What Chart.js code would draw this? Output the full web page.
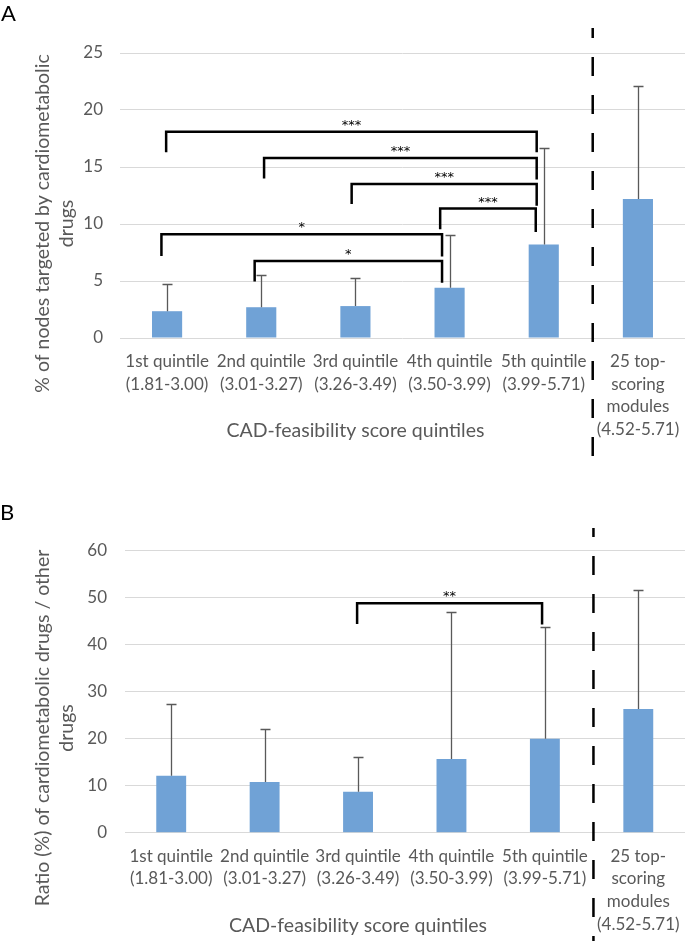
<!DOCTYPE html>
<html>
<head>
<meta charset="utf-8">
<script src="https://cdn.jsdelivr.net/npm/chart.js@4/dist/chart.umd.min.js"></script>
<style>
  body { margin: 0; background: #fff; }
  canvas { position: absolute; left: 0; }
</style>
</head>
<body>
<canvas id="chartA" width="685" height="460" style="top:0"></canvas>
<canvas id="chartB" width="685" height="481" style="top:460px"></canvas>
<script>
// categories (x tick labels)
var quintiles = [
    ['1st quintile', '(1.81-3.00)'],
    ['2nd quintile', '(3.01-3.27)'],
    ['3rd quintile', '(3.26-3.49)'],
    ['4th quintile', '(3.50-3.99)'],
    ['5th quintile', '(3.99-5.71)'],
    ['25 top-', 'scoring', 'modules', '(4.52-5.71)']
];

// panel A: % of nodes targeted by cardiometabolic drugs
var nodesMean = [2.35, 2.7, 2.8, 4.4, 8.2, 12.2];
var nodesErr = [2.4, 2.8, 2.5, 4.6, 8.5, 9.9];
var ticksA = [0, 5, 10, 15, 20, 25];
// [from, to, top, left leg end, right leg end, label]
var bracketsA = [
    [-0.01, 3.925, 18.1, 16.3, 16.3, '***'],
    [1.03, 3.925, 15.8, 14.0, 13.9, '***'],
    [1.96, 3.925, 13.5, 11.75, 11.6, '***'],
    [2.9, 3.915, 11.35, 9.55, 9.3, '***'],
    [-0.06, 2.92, 9.1, 7.2, 7.15, '*'],
    [0.93, 2.92, 6.75, 4.95, 4.85, '*']
];

// panel B: ratio (%) of cardiometabolic drugs / other drugs
var ratioMean = [12.1, 10.8, 8.7, 15.7, 20.0, 26.3];
var ratioErr = [15.2, 11.2, 7.5, 31.2, 23.7, 25.3];
var ticksB = [0, 10, 20, 30, 40, 50, 60];
var bracketsB = [
    [1.99, 3.97, 48.8, 44.4, 44.3, '**']
];

var FONT = 'Lato, "Open Sans", sans-serif';
var GREY = '#595959';

var annotations = {
    id: 'annotations',
    afterDatasetsDraw: function (chart, args, o) {
        var ctx = chart.ctx;
        var xs = chart.scales.x, ys = chart.scales.y, area = chart.chartArea;
        var means = chart.data.datasets[0].data;
        ctx.save();

        // error bars (upper only)
        ctx.strokeStyle = GREY;
        ctx.lineWidth = 1.3;
        o.errors.forEach(function (e, i) {
            var px = Math.round(xs.getPixelForValue(i)) + 0.5;
            var y0 = ys.getPixelForValue(means[i]);
            var y1 = Math.round(ys.getPixelForValue(means[i] + e)) + 0.5;
            ctx.beginPath();
            ctx.moveTo(px, y0);
            ctx.lineTo(px, y1);
            ctx.moveTo(px - 5, y1);
            ctx.lineTo(px + 5, y1);
            ctx.stroke();
        });

        // significance brackets
        ctx.strokeStyle = '#000';
        ctx.fillStyle = '#000';
        ctx.lineWidth = 2.5;
        ctx.lineJoin = 'miter';
        ctx.font = '13px "DejaVu Sans", sans-serif';
        ctx.textAlign = 'center';
        ctx.textBaseline = 'alphabetic';
        o.brackets.forEach(function (b) {
            var x1 = xs.getPixelForValue(b[0]);
            var x2 = xs.getPixelForValue(b[1]);
            var yt = ys.getPixelForValue(b[2]);
            ctx.beginPath();
            ctx.moveTo(x1, ys.getPixelForValue(b[3]));
            ctx.lineTo(x1, yt);
            ctx.lineTo(x2, yt);
            ctx.lineTo(x2, ys.getPixelForValue(b[4]));
            ctx.stroke();
            ctx.fillText(b[5], (x1 + x2) / 2, yt - 3);
        });

        // dashed divider before the top-scoring modules
        var dx = xs.getPixelForValue(o.dividerAt);
        ctx.lineWidth = 2.5;
        ctx.setLineDash([19, 19]);
        ctx.lineDashOffset = o.dashOffset;
        ctx.beginPath();
        ctx.moveTo(dx, o.dividerTop);
        ctx.lineTo(dx, chart.height);
        ctx.stroke();
        ctx.setLineDash([]);

        // x axis title, centred over the five quintiles
        ctx.fillStyle = GREY;
        ctx.font = '19.5px ' + FONT;
        ctx.textBaseline = 'middle';
        var cx = (xs.getPixelForValue(0) + xs.getPixelForValue(4)) / 2;
        ctx.fillText('CAD-feasibility score quintiles', cx, area.bottom + 93);

        // y axis title (two lines, rotated)
        o.yTitle.lines.forEach(function (t, i) {
            ctx.save();
            ctx.translate(o.yTitle.x[i], o.yTitle.y);
            ctx.rotate(-Math.PI / 2);
            ctx.fillText(t, 0, 0);
            ctx.restore();
        });

        // panel letter
        ctx.fillStyle = '#000';
        ctx.font = '22px ' + FONT;
        ctx.textAlign = 'left';
        ctx.textBaseline = 'alphabetic';
        ctx.fillText(o.panel, o.panelX, o.panelY);
        ctx.restore();
    }
};

function makeChart(id, means, errs, ticks, brackets, opts) {
    return new Chart(document.getElementById(id), {
        type: 'bar',
        data: {
            labels: quintiles,
            datasets: [{
                data: means,
                backgroundColor: '#70a2d6',
                borderWidth: 0,
                barPercentage: 0.32,
                categoryPercentage: 1
            }]
        },
        options: {
            responsive: false,
            animation: false,
            layout: { padding: { top: opts.top, left: 0, right: 0, bottom: 0 } },
            plugins: {
                legend: { display: false },
                tooltip: { enabled: false },
                annotations: {
                    errors: errs,
                    brackets: brackets,
                    dividerAt: 4.52,
                    dividerTop: opts.dividerTop,
                    dashOffset: opts.dashOffset,
                    yTitle: opts.yTitle,
                    panel: opts.panel,
                    panelX: opts.panelX,
                    panelY: opts.panelY
                }
            },
            scales: {
                x: {
                    grid: { display: true, drawOnChartArea: false, color: 'rgba(0,0,0,0)', tickLength: 9, tickColor: 'rgba(0,0,0,0)' },
                    border: { display: false },
                    ticks: {
                        autoSkip: false, maxRotation: 0, minRotation: 0, padding: 3,
                        color: GREY, font: { family: FONT, size: 17, lineHeight: 1.335 }
                    },
                    afterFit: function (s) { s.height = opts.xHeight; }
                },
                y: {
                    min: 0,
                    max: ticks[ticks.length - 1],
                    afterBuildTicks: function (s) { s.ticks = ticks.map(function (v) { return { value: v }; }); },
                    grid: { color: '#d9d9d9', lineWidth: 1, drawTicks: false },
                    border: { display: false },
                    ticks: { padding: opts.tickPad, color: GREY, font: { family: FONT, size: 17 } },
                    afterFit: function (s) { s.width = opts.yWidth; }
                }
            }
        },
        plugins: [annotations]
    });
}

makeChart('chartA', nodesMean, nodesErr, ticksA, bracketsA, {
    top: 53, xHeight: 122, yWidth: 120, tickPad: 17,
    dividerTop: 28, dashOffset: 9,
    yTitle: { lines: ['% of nodes targeted by cardiometabolic', 'drugs'], x: [43, 67], y: 223.5 },
    panel: 'A', panelX: 1, panelY: 21
});

makeChart('chartB', ratioMean, ratioErr, ticksB, bracketsB, {
    top: 90.7, xHeight: 108.3, yWidth: 124.5, tickPad: 17.5,
    dividerTop: 68, dashOffset: 10,
    yTitle: { lines: ['Ratio (%) of cardiometabolic drugs / other', 'drugs'], x: [43, 67], y: 268 },
    panel: 'B', panelX: 0, panelY: 60
});
</script>
</body>
</html>
